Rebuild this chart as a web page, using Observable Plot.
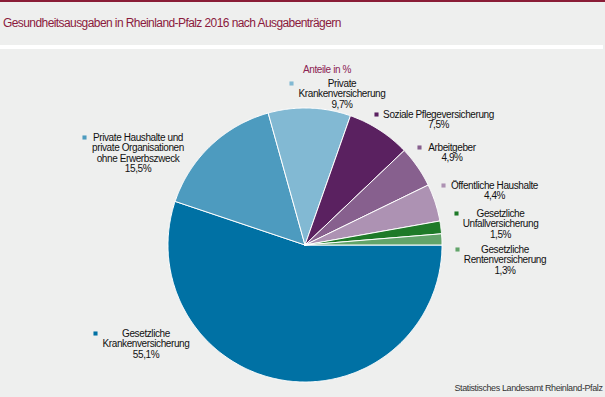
<!DOCTYPE html>
<html>
<head>
<meta charset="utf-8">
<script src="https://cdn.jsdelivr.net/npm/d3@7"></script>
<script src="https://cdn.jsdelivr.net/npm/@observablehq/plot@0.6"></script>
<style>
  html, body { margin: 0; padding: 0; background: #eeefee; }
  body { width: 605px; height: 397px; overflow: hidden; font-family: "Liberation Sans", Arial, sans-serif; }
  #head { height: 43px; border-top: 2px solid #8a1c36; position: relative; }
  #title { position: absolute; left: 3px; top: 14px; font-size: 12px; color: #8b1a3d; letter-spacing: -0.58px; white-space: nowrap; }
  #rule { height: 4px; width: 603px; background: #ffffff; }
</style>
</head>
<body>
<div id="head"><div id="title">Gesundheitsausgaben in Rheinland-Pfalz 2016 nach Ausgabenträgern</div></div>
<div id="rule"></div>
<div id="chart"></div>
<script>
// ---- data ----
const categories = [
  "Gesetzliche Krankenversicherung",
  "Private Haushalte und private Organisationen ohne Erwerbszweck",
  "Private Krankenversicherung",
  "Soziale Pflegeversicherung",
  "Arbeitgeber",
  "Öffentliche Haushalte",
  "Gesetzliche Unfallversicherung",
  "Gesetzliche Rentenversicherung"
];
const shares = [55.1, 15.5, 9.7, 7.5, 4.9, 4.4, 1.5, 1.3];
const shareLabels = ["55,1%", "15,5%", "9,7%", "7,5%", "4,9%", "4,4%", "1,5%", "1,3%"];
const labelLines = [
  ["Gesetzliche", "Krankenversicherung"],
  ["Private Haushalte und", "private Organisationen", "ohne Erwerbszweck"],
  ["Private", "Krankenversicherung"],
  ["Soziale Pflegeversicherung"],
  ["Arbeitgeber"],
  ["Öffentliche Haushalte"],
  ["Gesetzliche", "Unfallversicherung"],
  ["Gesetzliche", "Rentenversicherung"]
];
const sliceColors = ["#0071a4", "#4d9bbf", "#82b9d3", "#5a2160", "#87608e", "#ad92b3", "#1e7a28", "#62a46a"];
const subtitle = "Anteile in %";
const source = "Statistisches Landesamt Rheinland-Pfalz";

// ---- layout (offsets from pie centre, px, y up) ----
const R = 137;
const LH = 10.5;
// [text centre x, first line centre y, marker x]
const labelLayout = [
  [-159, -88.5, -209.5],
  [-167, 107.5, -220.5],
  [37, 161.5, -13.5],
  [133.5, 130.5, 71.5],
  [147, 97.5, 114.5],
  [189.5, 59.5, 138.5],
  [195.5, 31.5, 151.5],
  [200, -4.5, 152.5]
];

// ---- slices ----
const arcs = d3.pie().sort(null).startAngle(Math.PI / 2).endAngle(Math.PI / 2 + 2 * Math.PI)(shares);
const slicePts = [];
arcs.forEach((a, i) => {
  const name = categories[i];
  slicePts.push({name, x: 0, y: 0});
  const n = Math.max(2, Math.ceil((a.endAngle - a.startAngle) / (Math.PI / 360)));
  for (let k = 0; k <= n; k++) {
    const t = a.startAngle + (a.endAngle - a.startAngle) * k / n;
    slicePts.push({name, x: R * Math.sin(t), y: R * Math.cos(t)});
  }
  slicePts.push({name, x: 0, y: 0});
});

const labels = categories.map((c, i) => {
  const lines = [...labelLines[i], shareLabels[i]];
  const [cx, fy, mx] = labelLayout[i];
  return {
    name: c,
    text: lines.join("\n"),
    x: cx,
    y: fy - (lines.length - 1) * LH / 2,
    mx, my: fy
  };
});

const W = 605, H = 348;
const chart = Plot.plot({
  width: W, height: H, margin: 0,
  style: {background: "transparent", fontFamily: "'Liberation Sans', Arial, sans-serif", letterSpacing: "-0.4px", overflow: "visible"},
  x: {domain: [-304.5, 300.5], range: [0, W], axis: null},
  y: {domain: [-152.5, 195.5], range: [H, 0], axis: null},
  color: {domain: categories, range: sliceColors},
  marks: [
    Plot.line(slicePts, {x: "x", y: "y", z: "name", fill: "name", stroke: "#ffffff", strokeWidth: 1, curve: "linear"}),
    Plot.text(labels, {x: "x", y: "y", text: "text", fill: "#111111", fontSize: 10, lineHeight: LH / 10, textAnchor: "middle", lineAnchor: "middle"}),
    Plot.dot(labels, {x: "mx", y: "my", fill: "name", symbol: "square", r: 2.3, stroke: null}),
    Plot.text([subtitle], {x: -2, y: 175.5, text: d => d, fill: "#8b2252", fontSize: 10, textAnchor: "start"}),
    Plot.text([source], {frameAnchor: "bottom-right", text: d => d, dx: -3, dy: -7, fill: "#333333", fontSize: 9, letterSpacing: "-0.25px"})
  ]
});
document.getElementById("chart").appendChild(chart);
</script>
</body>
</html>
